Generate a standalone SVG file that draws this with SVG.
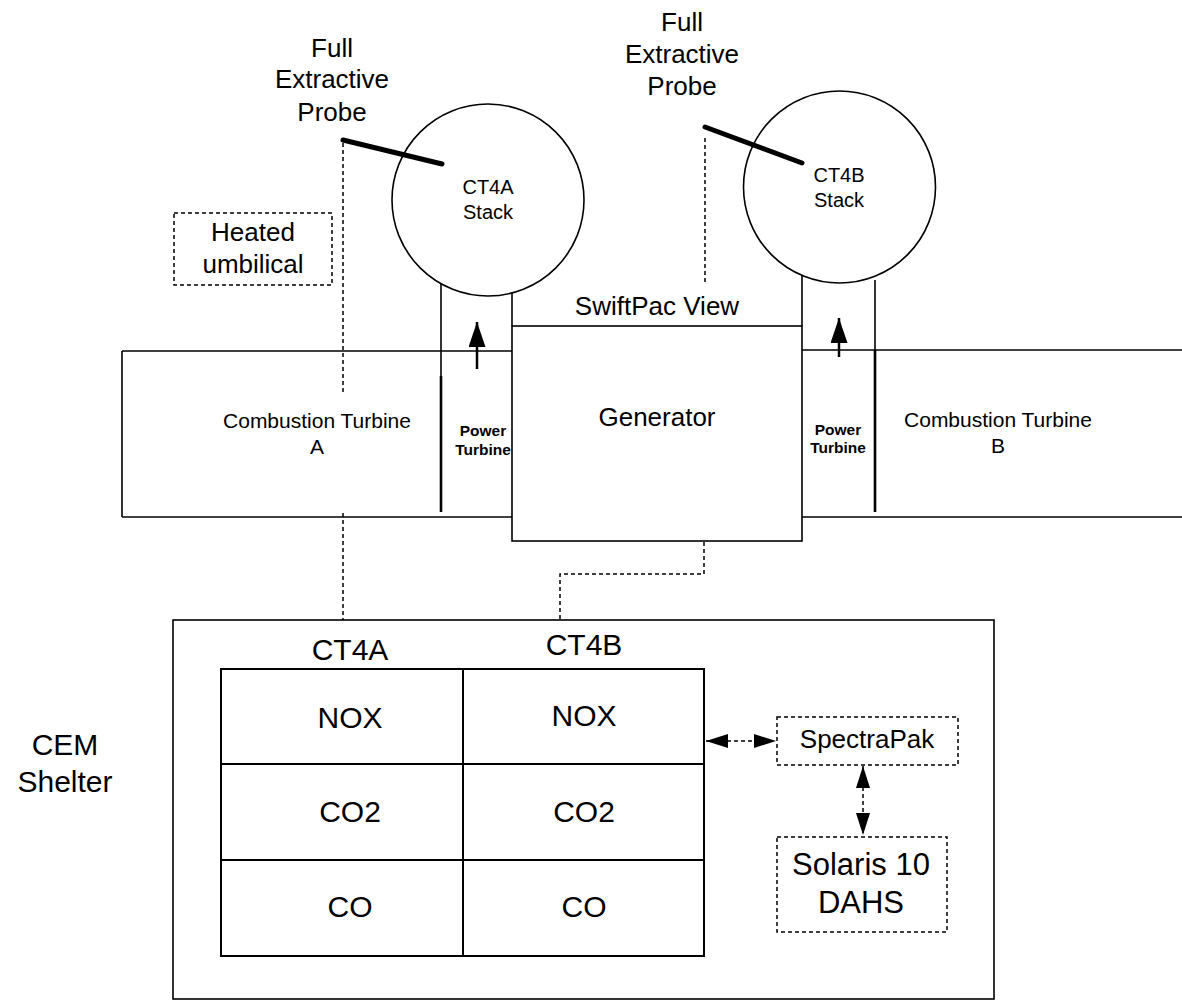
<svg xmlns="http://www.w3.org/2000/svg" width="1182" height="1002" viewBox="0 0 1182 1002">
<style>
text{font-family:"Liberation Sans",Arial,sans-serif;fill:#000;text-anchor:middle}
.ln{stroke:#000;stroke-width:1.6;fill:none}
.thick{stroke:#000;stroke-width:2.6;fill:none}
.dash{stroke:#000;stroke-width:1.5;fill:none;stroke-dasharray:4 3}
.probe{stroke:#000;stroke-width:5;stroke-linecap:round}
.f20{font-size:20px}.f21{font-size:21px}.f26{font-size:26px}.f30{font-size:30px}.f31{font-size:31px}
.pt{font-size:15.5px;font-weight:bold}
</style>
<defs>
<marker id="ah" viewBox="0 0 22 14" refX="22" refY="7" markerWidth="22" markerHeight="14" markerUnits="userSpaceOnUse" orient="auto-start-reverse"><path d="M0,0 L22,7 L0,14 z" fill="#000"/></marker>
<marker id="up" viewBox="0 0 25 17" refX="25" refY="8.5" markerWidth="25" markerHeight="17" markerUnits="userSpaceOnUse" orient="auto"><path d="M0,0 L25,8.5 L0,17 z" fill="#000"/></marker>
</defs>

<g id="labels">
<text class="f26" x="332" y="57">Full</text>
<text class="f26" x="332" y="88">Extractive</text>
<text class="f26" x="332" y="121">Probe</text>
<text class="f26" x="682" y="31">Full</text>
<text class="f26" x="682" y="63">Extractive</text>
<text class="f26" x="682" y="95">Probe</text>
<text class="f26" x="657" y="315">SwiftPac View</text>
</g>

<g id="heated-umbilical">
<rect class="dash" x="174" y="213" width="158" height="72"/>
<text class="f26" x="253" y="241">Heated</text>
<text class="f26" x="253" y="273">umbilical</text>
</g>

<g id="ct4a-stack">
<circle class="ln" cx="488" cy="200" r="96"/>
<text class="f20" x="488" y="194">CT4A</text>
<text class="f20" x="488" y="219">Stack</text>
</g>

<g id="ct4b-stack">
<circle class="ln" cx="839.5" cy="187" r="96"/>
<text class="f20" x="839" y="182">CT4B</text>
<text class="f20" x="839" y="207">Stack</text>
</g>

<g id="probe-a"><line class="probe" x1="343" y1="140" x2="442" y2="164"/></g>
<g id="probe-b"><line class="probe" x1="705" y1="127" x2="802" y2="163"/></g>

<g id="turbine-train">
<line class="ln" x1="122" y1="351" x2="512" y2="351"/>
<line class="ln" x1="802" y1="350" x2="1182" y2="350"/>
<line class="ln" x1="122" y1="517" x2="512" y2="517"/>
<line class="ln" x1="802" y1="517" x2="1182" y2="517"/>
<line class="ln" x1="122" y1="351" x2="122" y2="517"/>
</g>

<g id="combustion-turbine-a">
<text class="f21" x="317" y="428">Combustion Turbine</text>
<text class="f21" x="317" y="454">A</text>
</g>

<g id="power-turbine-a">
<line class="ln" x1="441" y1="284" x2="441" y2="377"/>
<line class="thick" x1="441" y1="376" x2="441" y2="512"/>
<line class="ln" x1="512" y1="293" x2="512" y2="326"/>
<text class="pt" x="483" y="436">Power</text>
<text class="pt" x="483" y="455">Turbine</text>
</g>

<g id="generator">
<rect class="ln" x="512" y="326" width="290" height="215"/>
<line class="ln" x1="802" y1="275" x2="802" y2="326"/>
<text class="f26" x="657" y="426">Generator</text>
</g>

<g id="power-turbine-b">
<line class="ln" x1="875" y1="280" x2="875" y2="351"/>
<line class="thick" x1="875" y1="350" x2="875" y2="512"/>
<text class="pt" x="838" y="435">Power</text>
<text class="pt" x="838" y="453">Turbine</text>
</g>

<g id="combustion-turbine-b">
<text class="f21" x="998" y="427">Combustion Turbine</text>
<text class="f21" x="998" y="453">B</text>
</g>

<g id="cem-shelter">
<rect class="ln" x="173" y="620" width="821" height="379"/>
<text class="f30" x="65" y="755">CEM</text>
<text class="f30" x="65" y="792">Shelter</text>
</g>

<g id="analyzer-table">
<rect class="thick" x="221" y="669" width="483" height="287" style="stroke-width:2"/>
<line class="ln" x1="463" y1="669" x2="463" y2="956" style="stroke-width:2"/>
<line class="ln" x1="221" y1="764" x2="704" y2="764" style="stroke-width:2"/>
<line class="ln" x1="221" y1="860" x2="704" y2="860" style="stroke-width:2"/>
<text class="f30" x="350" y="660">CT4A</text>
<text class="f30" x="584" y="655">CT4B</text>
<text class="f30" x="350" y="728">NOX</text>
<text class="f30" x="584" y="726">NOX</text>
<text class="f30" x="350" y="822">CO2</text>
<text class="f30" x="584" y="822">CO2</text>
<text class="f30" x="350" y="917">CO</text>
<text class="f30" x="584" y="917">CO</text>
</g>

<g id="spectrapak">
<rect class="dash" x="777" y="717" width="181" height="48"/>
<text class="f26" x="867" y="748">SpectraPak</text>
</g>

<g id="solaris-dahs">
<rect class="dash" x="777" y="837" width="170" height="95"/>
<text class="f31" x="861" y="875">Solaris 10</text>
<text class="f31" x="861" y="913">DAHS</text>
</g>

<g id="connectors">
<polyline class="dash" points="343,143 343,395"/>
<polyline class="dash" points="343,513 343,620"/>
<polyline class="dash" points="705,138 705,283"/>
<polyline class="dash" points="704,542 704,574 560,574 560,620"/>
<line class="dash" x1="706" y1="741" x2="776" y2="741" marker-start="url(#ah)" marker-end="url(#ah)"/>
<line class="dash" x1="863" y1="766" x2="863" y2="835" marker-start="url(#ah)" marker-end="url(#ah)"/>
<line class="ln" x1="477" y1="369" x2="477" y2="322" style="stroke-width:2.5" marker-end="url(#up)"/>
<line class="ln" x1="839" y1="357" x2="839" y2="318" style="stroke-width:2.5" marker-end="url(#up)"/>
</g>
</svg>
